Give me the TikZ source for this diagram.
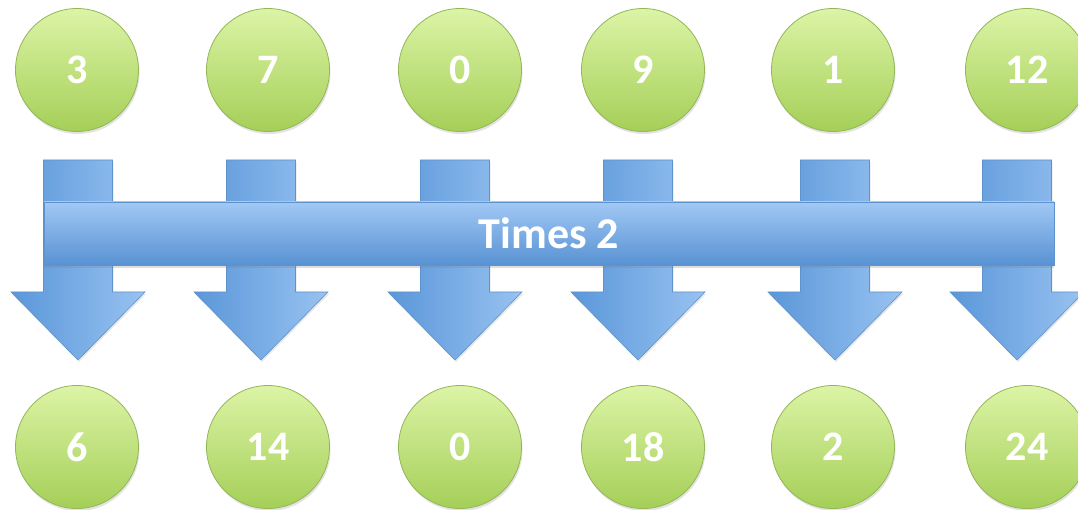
\documentclass[tikz,border=0pt]{standalone}
\usepackage{fontspec}
\setmainfont{Carlito}
\usetikzlibrary{shadows}
\definecolor{gtop}{HTML}{DCF4A6}
\definecolor{gbot}{HTML}{A5CF58}
\definecolor{gline}{HTML}{93B656}
\definecolor{bdark}{HTML}{5A97D9}
\definecolor{blight}{HTML}{98C2F1}
\definecolor{bline}{HTML}{5E92CC}
\definecolor{bartop}{HTML}{A2C8F5}
\definecolor{barbot}{HTML}{5892D3}
\tikzset{
  num/.style={circle, minimum size=123pt, inner sep=0pt, draw=gline, line width=0.8pt,
    top color=gtop, bottom color=gbot, text=white,
    font=\bfseries\fontsize{42}{50}\selectfont,
    drop shadow={opacity=0.22, shadow xshift=1pt, shadow yshift=-2.5pt}},
  darrow/.style={left color=bdark, right color=blight, draw=bline, line width=0.6pt,
    drop shadow={opacity=0.18, shadow xshift=1pt, shadow yshift=-2pt}},
  barbox/.style={rectangle, minimum width=1010pt, minimum height=63pt, inner sep=0pt,
    top color=bartop, bottom color=barbot, draw=bline, line width=0.6pt, text=white,
    font=\bfseries\fontsize{44}{52}\selectfont,
    drop shadow={opacity=0.25, shadow xshift=0pt, shadow yshift=-3pt}}
}
\begin{document}
\begin{tikzpicture}[x=1pt,y=1pt]
\clip (0,0) rectangle (1078,-510);
\fill[white] (0,0) rectangle (1078,-510);
% block arrows
\foreach \cx in {78,261,455,638,835,1017}{
  \path[darrow] (\cx-34.5,-160) -- (\cx+34.5,-160) -- (\cx+34.5,-292) -- (\cx+67,-292)
    -- (\cx,-360) -- (\cx-67,-292) -- (\cx-34.5,-292) -- cycle;
}
% bar
\node[barbox] (bar) at (549,-233.5) {\raisebox{-3pt}{Times 2}};
% input circles
\node[num] (i1) at (77,-70) {\raisebox{-2pt}{3}};
\node[num] (i2) at (268,-70) {\raisebox{-2pt}{7}};
\node[num] (i3) at (460,-70) {\raisebox{-2pt}{0}};
\node[num] (i4) at (643,-70) {\raisebox{-2pt}{9}};
\node[num] (i5) at (833,-70) {\raisebox{-2pt}{1}};
\node[num] (i6) at (1027,-70) {\raisebox{-2pt}{12}};
% output circles
\node[num] (o1) at (77,-447) {\raisebox{-2pt}{6}};
\node[num] (o2) at (268,-447) {\raisebox{-2pt}{14}};
\node[num] (o3) at (460,-447) {\raisebox{-2pt}{0}};
\node[num] (o4) at (643,-447) {\raisebox{-2pt}{18}};
\node[num] (o5) at (833,-447) {\raisebox{-2pt}{2}};
\node[num] (o6) at (1027,-447) {\raisebox{-2pt}{24}};
\end{tikzpicture}
\end{document}
